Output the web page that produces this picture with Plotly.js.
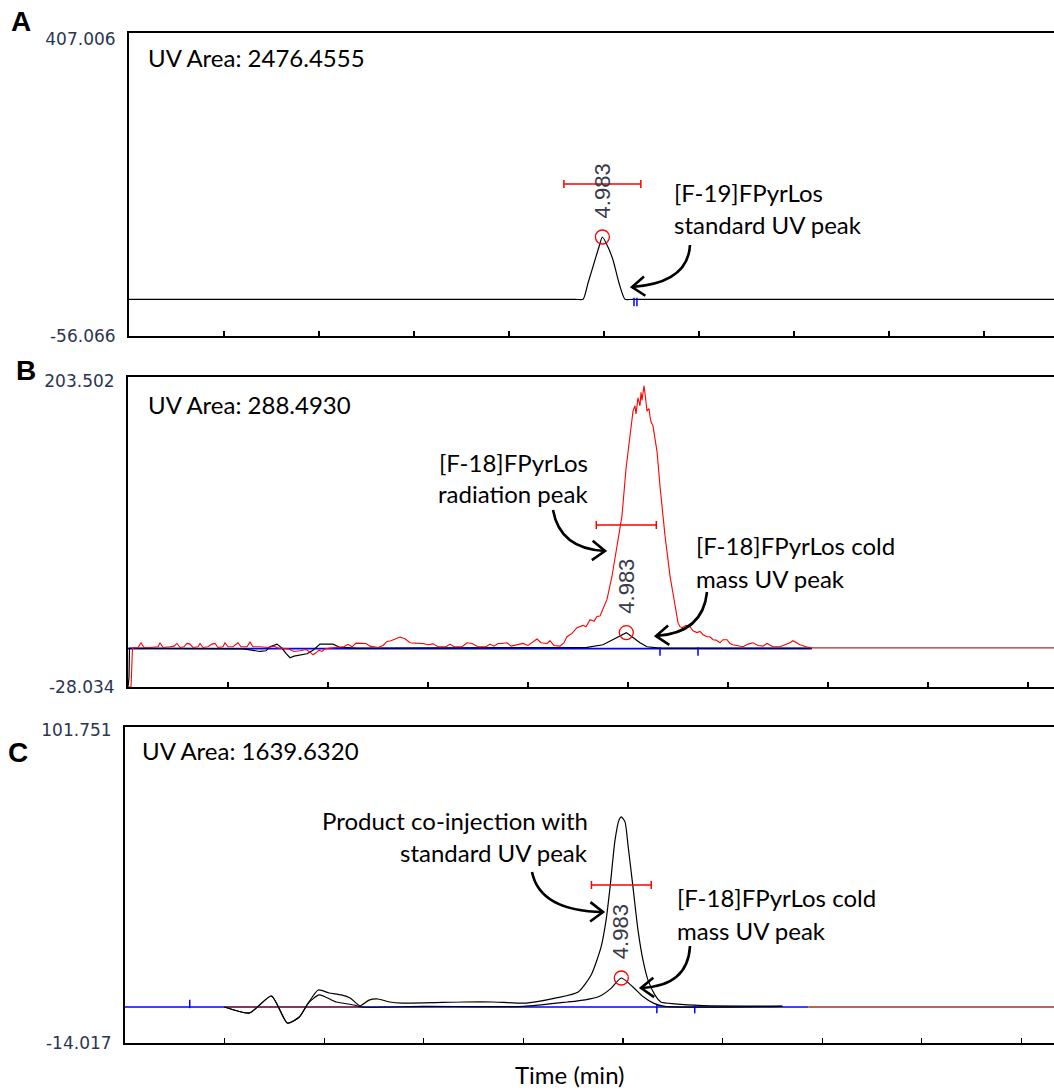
<!DOCTYPE html>
<html><head><meta charset="utf-8">
<script src="https://cdn.plot.ly/plotly-3.0.1.min.js"></script>
<style>html,body{margin:0;padding:0;background:#fff;overflow:hidden}</style>
</head><body><div id="chart" style="width:1054px;height:1091px"></div>
<script>
// ---------- Panel A data ----------
const timeA = [0, 4.70, 4.779, 4.832, 4.905, 4.947, 4.983, 5.042, 5.095, 5.158, 5.221, 5.30, 9.74];
const uvA   = [0, 0, 0, 24.9, 60.1, 79.9, 95.2, 79.9, 60.1, 24.9, 0, 0, 0];
const peakA = {t: 4.983, v: 95.2, bar: 176.2, half: 0.405, label: 165.5};
const blueTickA = {t: [5.316, 5.347], v: [-4, -4]};
const yRangeA = [-56.066, 407.006];
const uvAreaA = "UV Area: 2476.4555";

// ---------- Panel B data ----------
const timeB_rad = [0,0.03,0.045,0.10,0.13,0.16,0.22,0.30,0.32,0.35,0.42,0.46,0.49,0.52,0.56,0.59,0.62,0.65,0.70,0.72,0.75,0.80,0.84,0.87,0.90,0.95,0.97,1.00,1.05,1.10,1.13,1.19,1.22,1.25,1.32,1.40,1.46,1.50,1.60,1.66,1.72,1.78,1.82,1.85,1.88,1.91,1.94,1.97,2.02,2.10,2.16,2.20,2.24,2.28,2.33,2.38,2.42,2.50,2.55,2.59,2.63,2.67,2.72,2.77,2.82,2.88,2.95,3.00,3.05,3.10,3.18,3.22,3.26,3.34,3.39,3.44,3.50,3.58,3.62,3.66,3.70,3.74,3.79,3.83,3.90,3.95,4.00,4.05,4.09,4.13,4.19,4.22,4.26,4.32,4.36,4.39,4.44,4.49,4.55,4.58,4.62,4.66,4.69,4.72,4.75,4.79,4.84,4.89,4.94,4.98,5.02,5.05,5.07,5.08,5.10,5.12,5.13,5.14,5.16,5.17,5.18,5.19,5.21,5.22,5.23,5.25,5.29,5.32,5.37,5.42,5.47,5.50,5.52,5.54,5.58,5.62,5.65,5.69,5.72,5.75,5.79,5.82,5.85,5.88,5.92,5.95,5.99,6.02,6.05,6.10,6.15,6.20,6.25,6.30,6.35,6.39,6.45,6.52,6.58,6.62,6.65,6.69,6.72,6.78,6.82,6.84];
const radB = [-28,-28,1,1.5,5,1.5,1.5,2,5,1.5,2,2.5,4.5,1.5,2,4.5,4,1.5,2,4.5,1.5,2,4,4.5,1.5,2,5,2,2,5,2,2,5.5,2,2,1.5,2.5,1,0.5,-1.5,-1,0,-2,-4,-2.5,-0.5,-1.5,0.5,1,1.5,2,3.8,2,4.7,4.7,4.5,2.5,1.5,3,6,6.5,8,9.3,8,5,4.7,4.5,3.5,4.2,2,2,4,2,2,5,4.5,2,2,4,2.5,4.5,4.5,5,2.5,4,4.5,3,5.5,7.8,5,4.5,6.5,3,2.5,5,9.5,12,16.3,18,17,22.3,21,24.6,25,29.9,37.4,54.7,77.2,99.8,135,160,178,182,176,188,182,192,186,197,188,185,178,180,174,170,167,148,122,85,55,35,20,17,16.3,18,17,14,12.6,13.5,11,9.5,9.5,7.3,7,5,7.3,7.3,4.5,3.5,3,2,4,5,3,2.5,4.5,2,2,3.5,5,6.5,5,3.5,2,1,1];
const timeB_uv = [0,0.01,0.015,0.5,1.0,1.15,1.22,1.32,1.38,1.42,1.49,1.54,1.58,1.62,1.66,1.72,1.79,1.85,1.92,2.05,2.12,2.3,4.5,4.59,4.75,4.85,4.94,4.983,5.04,5.12,5.19,5.32,6.84];
const uvB = [-28,-21,1,1,1,0.5,-0.3,-1.5,-1,2,4,1,-3,-6.2,-5,-4,-3.2,-0.5,4,4,1.5,1,1,1.5,3.5,7.3,11,12.6,9.5,5,2,1,1];
const peakB = {t: 4.983, v: 12.6, bar: 93.0, half: 0.30, label: 47.1};
const blueTickB = {t: [5.32, 5.70], v: [-1.5, -1.5]};
const yRangeB = [-28.034, 203.502];
const uvAreaB = "UV Area: 288.4930";

// ---------- Panel C data ----------
const timeC_big = [1.00,1.25,1.47,1.63,1.75,1.84,1.94,2.05,2.17,2.26,2.36,2.45,2.54,2.66,2.78,3.40,3.70,4.03,4.33,4.55,4.68,4.78,4.83,4.87,4.92,4.96,4.983,5.02,5.05,5.10,5.15,5.20,5.25,5.32,5.38,5.52,5.8,6.6];
const uvC_big = [-0.83,-3.0,3.2,-6.7,-4.5,0.6,5.4,4.3,3.6,2.5,-0.4,1.7,2.1,1.0,0.6,1.0,1.0,0.6,2.5,4.7,10.9,21.2,31.0,43.1,60.4,67.7,68.8,67.0,58.5,43.1,27.4,16.4,9.1,3.6,1.0,0.3,-0.3,-0.5];
const timeC_small = [1.00,1.25,1.47,1.63,1.75,1.84,1.95,2.12,2.30,2.37,3.0,4.0,4.44,4.62,4.76,4.88,4.983,5.10,5.20,5.31,5.42,6.6];
const uvC_small = [-0.83,-3.0,3.2,-6.7,-4.5,0.6,3.6,1.0,-0.1,-0.83,-0.6,-0.6,1.0,1.8,3.0,6.0,9.8,6.5,3.0,0.5,-0.6,-0.6];
const peakC = {t: 4.983, v: 9.8, bar: 43.9, half: 0.30, label: 26.7};
const blueTickC = {t: [0.65, 5.34, 5.72], v: [0.3, -1.6, -1.6]};
const yRangeC = [-14.017, 101.751];
const uvAreaC = "UV Area: 1639.6320";

const baselineB = {blueEnd: 6.84, v: 0.6, brownV: 1.2, end: 9.26};
const baselineC = {blueEnd: 6.86, v: -0.83, brownStart: 1.0, brownStop: 2.37, end: 9.33};

// ---------- layout helpers (pixel positions of the page) ----------
const W = 1054, H = 1091;
const PX = p => p / W, PY = p => 1 - p / H;

const traces = [];
function line(x, y, color, xa, ya, width, shape) {
  traces.push({x, y, type: 'scatter', mode: 'lines', xaxis: xa, yaxis: ya, hoverinfo: 'skip',
    line: {color, width: width || 1.2, shape: shape || 'linear', smoothing: 0.6}, showlegend: false});
}
function peakMarks(pk, xa, ya) {
  traces.push({x: [pk.t], y: [pk.v], type: 'scatter', mode: 'markers', xaxis: xa, yaxis: ya, showlegend: false,
    marker: {symbol: 'circle-open', size: 14, color: '#ff0000', line: {width: 1.3, color: '#ff0000'}}});
  traces.push({x: [pk.t], y: [pk.bar], type: 'scatter', mode: 'markers', xaxis: xa, yaxis: ya, showlegend: false,
    marker: {size: 1, color: 'rgba(0,0,0,0)'},
    error_x: {type: 'data', array: [pk.half], symmetric: true, color: '#ff0000', thickness: 1.5, width: 4}});
}
function blueTicks(bt, xa, ya) {
  traces.push({x: bt.t, y: bt.v, type: 'scatter', mode: 'markers', xaxis: xa, yaxis: ya, showlegend: false,
    marker: {symbol: 'line-ns', size: 6, line: {width: 1.5, color: '#0000ff'}}});
}

// Panel A
line(timeA, uvA, '#000000', 'x', 'y', 1.2, 'spline');
peakMarks(peakA, 'x', 'y');
blueTicks(blueTickA, 'x', 'y');

// Panel B
line([0, baselineB.blueEnd], [baselineB.v, baselineB.v], '#0000ff', 'x2', 'y2', 1.6);
line([baselineB.blueEnd, baselineB.end], [baselineB.brownV, baselineB.brownV], '#a0322d', 'x2', 'y2', 1.4);
line(timeB_uv, uvB, '#000000', 'x2', 'y2', 1.2);
line(timeB_rad, radB, '#ff0000', 'x2', 'y2', 1.1);
peakMarks(peakB, 'x2', 'y2');
blueTicks(blueTickB, 'x2', 'y2');

// Panel C
line([0, baselineC.blueEnd], [baselineC.v, baselineC.v], '#0000ff', 'x3', 'y3', 1.6);
line([baselineC.brownStart, baselineC.brownStop, null, baselineC.blueEnd, baselineC.end],
     [baselineC.v, baselineC.v, null, baselineC.v, baselineC.v], '#a0322d', 'x3', 'y3', 1.4);
line(timeC_small, uvC_small, '#000000', 'x3', 'y3', 1.2, 'spline');
line(timeC_big, uvC_big, '#000000', 'x3', 'y3', 1.2, 'spline');
peakMarks(peakC, 'x3', 'y3');
blueTicks(blueTickC, 'x3', 'y3');

function xaxis(left, range) {
  return {domain: [PX(left), 1], range, showgrid: false, zeroline: false, showline: true,
    linecolor: '#000', linewidth: 2, mirror: true, ticks: 'inside', ticklen: 5, tickwidth: 1.2,
    tickcolor: '#000', tickmode: 'linear', tick0: 0, dtick: 1, showticklabels: false, fixedrange: true};
}
function yaxis(bottom, top, range, topShiftPx) {
  const perPx = (range[1] - range[0]) / (bottom - top);
  return {domain: [PY(bottom), PY(top)], range, showgrid: false, zeroline: false, showline: true,
    linecolor: '#000', linewidth: 2, ticks: '', tickmode: 'array',
    tickvals: [range[0], range[1] - topShiftPx * perPx],
    ticktext: range.map(v => v.toFixed(3)), ticklabelstandoff: 8,
    tickfont: {family: 'DejaVu Sans', size: 17, color: '#2b3550'}, fixedrange: true};
}

const txtFont = {family: 'Lato, Carlito, sans-serif', size: 24, color: '#000'};
const ann = [];
function T(text, x, y, anchor, font) {
  ann.push({text, xref: 'paper', yref: 'paper', x: PX(x), y: PY(y), xanchor: anchor || 'left',
    yanchor: 'middle', showarrow: false, font: font || txtFont});
}
function rotLabel(pk, xa, ya) {
  ann.push({text: '4.983', xref: xa, yref: ya, x: pk.t, y: pk.label, textangle: -90, showarrow: false,
    xanchor: 'center', yanchor: 'middle', font: {family: 'Liberation Sans, Arial', size: 22, color: '#3a3a4a'}});
}
const letterFont = {family: 'Liberation Sans, Arial', size: 28, color: '#000', weight: 'bold'};
T('<b>A</b>', 21, 22, 'center', letterFont);
T('<b>B</b>', 26, 370, 'center', letterFont);
T('<b>C</b>', 18, 752, 'center', letterFont);
T(uvAreaA, 146, 57);
T(uvAreaB, 146, 405);
T(uvAreaC, 140, 750);
T('[F-19]FPyrLos', 672, 192);
T('standard UV peak', 672, 225);
T('[F-18]FPyrLos', 590, 462, 'right');
T('radiation peak', 590, 493, 'right');
T('[F-18]FPyrLos cold', 694, 545);
T('mass UV peak', 694, 578);
T('Product co-injection with', 590, 820, 'right');
T('standard UV peak', 590, 852, 'right');
T('[F-18]FPyrLos cold', 675, 897);
T('mass UV peak', 675, 930);
T('Time (min)', 570, 1074, 'center', {family: 'Lato, sans-serif', size: 24, color: '#000'});
rotLabel(peakA, 'x', 'y');
rotLabel(peakB, 'x2', 'y2');
rotLabel(peakC, 'x3', 'y3');

// curved annotation arrows (page pixel positions)
const shapes = [];
function arrow(s, c, e) {
  const P = p => PX(p[0]) + ',' + PY(p[1]);
  shapes.push({type: 'path', xref: 'paper', yref: 'paper', path: 'M' + P(s) + ' Q' + P(c) + ' ' + P(e),
    line: {color: '#000', width: 2.6}});
  const dx = e[0] - c[0], dy = e[1] - c[1], L = Math.hypot(dx, dy);
  const ux = -dx / L, uy = -dy / L, len = 16, pts = [];
  for (const a of [0.65, -0.65]) {
    pts.push([e[0] + len * (ux * Math.cos(a) - uy * Math.sin(a)), e[1] + len * (ux * Math.sin(a) + uy * Math.cos(a))]);
  }
  shapes.push({type: 'path', xref: 'paper', yref: 'paper', path: 'M' + P(pts[0]) + ' L' + P(e) + ' L' + P(pts[1]),
    line: {color: '#000', width: 2.6}});
}
arrow([690, 245], [688, 283], [632, 287]);
arrow([553, 510], [560, 549], [605, 551]);
arrow([707, 592], [703, 633], [656, 636]);
arrow([532, 872], [540, 911], [603, 912]);
arrow([690, 946], [688, 986], [641, 988]);

const layout = {
  width: W, height: H, margin: {l: 0, r: 0, t: 0, b: 0}, paper_bgcolor: '#fff', plot_bgcolor: '#fff',
  showlegend: false,
  xaxis: xaxis(129, [0, 9.737]), yaxis: yaxis(336, 33, yRangeA, 6),
  xaxis2: xaxis(128, [0, 9.26]), yaxis2: yaxis(687, 377, yRangeB, 4),
  xaxis3: xaxis(125, [0, 9.327]), yaxis3: yaxis(1043, 727, yRangeC, 3),
  annotations: ann, shapes
};
layout.yaxis2.anchor = 'x2'; layout.xaxis2.anchor = 'y2';
layout.yaxis3.anchor = 'x3'; layout.xaxis3.anchor = 'y3';
Plotly.newPlot('chart', traces, layout, {staticPlot: true, displayModeBar: false});
</script></body></html>
